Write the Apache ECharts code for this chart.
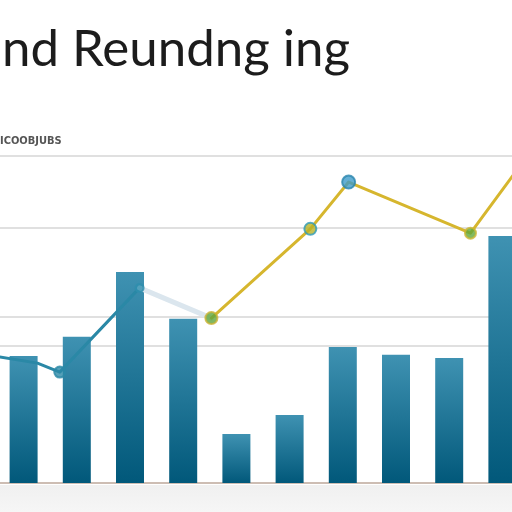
<!DOCTYPE html>
<html>
<head>
<meta charset="utf-8">
<script src="https://cdn.jsdelivr.net/npm/echarts@6/dist/echarts.min.js"></script>
<style>html,body{margin:0;padding:0;background:#fff}#c{width:512px;height:512px}</style>
</head>
<body>
<div id="c"></div>
<script>
// ---- data ----
const titleText = 'nd Reundng ing';
const subText = 'ICOOBJUBS';
const categories = ['1','2','3','4','5','6','7','8','9','10'];
const barValues = [35.3, 40.6, 58.6, 45.6, 13.6, 18.9, 37.8, 35.6, 34.7, 68.6];
const lineX = [-0.45, 0.26, 0.68, 2.18, 3.53, 5.39, 6.11, 8.40, 9.5];
const lineY = [35.0, 33.3, 30.8, 54.2, 45.8, 70.6, 83.6, 69.4, 91.5];
const gridValues = [90.8, 70.8, 46.1, 38.1];

// ---- styles (kept apart from data) ----
const markerStyles = [
  null, null,
  {size: 11, fill: '#2a88a6', border: '#2a88a6'},
  {size: 8, fill: '#2f8fae', border: '#2f8fae'},
  {size: 12, fill: '#5fa53c', border: '#c9b232'},
  {size: 12, fill: '#b9b326', border: '#2e9ab8'},
  {size: 13, fill: '#3d9bc9', border: '#2a86ae'},
  {size: 11, fill: '#62a838', border: '#cbb633'},
  null
];
const pts = lineX.map((x, i) => [x, lineY[i]]);
function seg(a, b, color, width) {
  return {
    type: 'line', xAxisIndex: 1, yAxisIndex: 0, z: 3,
    data: pts.slice(a, b + 1), symbol: 'none',
    lineStyle: {color: color, width: width, cap: 'round', join: 'round'},
    silent: true, animation: false
  };
}
const markerData = pts.map((p, i) => {
  const s = markerStyles[i];
  if (!s) return null;
  return {value: p, symbolSize: s.size, itemStyle: {color: s.fill, borderColor: s.border, borderWidth: 2}};
}).filter(Boolean);

const chart = echarts.init(document.getElementById('c'), null, {renderer: 'canvas'});
chart.setOption({
  animation: false,
  backgroundColor: '#ffffff',
  title: [
    {text: titleText, left: 2, top: 24, padding: 0, textStyle: {fontFamily: 'Lato', fontSize: 51, fontWeight: 'normal', color: '#1c1c1c'}},
    {text: subText, left: 0, top: 136, padding: 0, textStyle: {fontFamily: 'DejaVu Sans Condensed', fontSize: 11, fontWeight: 'bold', color: '#555555'}}
  ],
  graphic: [
    {type: 'rect', shape: {x: 0, y: 485, width: 512, height: 27}, z: -10,
     style: {fill: new echarts.graphic.LinearGradient(0, 0, 0, 1, [{offset: 0, color: '#f0f0f0'}, {offset: 1, color: '#f6f6f6'}])}}
  ],
  grid: {left: -3, width: 532, top: 123, height: 360, outerBoundsMode: 'none', containLabel: false},
  xAxis: [
    {type: 'category', data: categories, axisLabel: {show: false}, axisTick: {show: false},
     axisLine: {show: true, lineStyle: {color: '#cdbdb3', width: 2}}},
    {type: 'value', min: -0.5, max: 9.5, show: false}
  ],
  yAxis: [{type: 'value', min: 0, max: 100, show: false, splitLine: {show: false}}],
  series: [
    {
      type: 'bar', data: barValues, barWidth: 28, z: 2,
      itemStyle: {color: new echarts.graphic.LinearGradient(0, 0, 0, 1, [
        {offset: 0, color: '#3f92b2'}, {offset: 1, color: '#01587a'}])},
      markLine: {
        silent: true, symbol: 'none', label: {show: false}, z: 1,
        lineStyle: {color: '#d6d6d6', width: 1.5, type: 'solid'},
        data: gridValues.map(v => ({yAxis: v}))
      }
    },
    seg(0, 3, '#2a88a6', 3),
    seg(3, 4, '#dbe6ee', 5),
    seg(4, 8, '#d6b62e', 3),
    {
      type: 'scatter', xAxisIndex: 1, yAxisIndex: 0, z: 4, data: markerData, silent: true
    }
  ]
});
</script>
</body>
</html>
